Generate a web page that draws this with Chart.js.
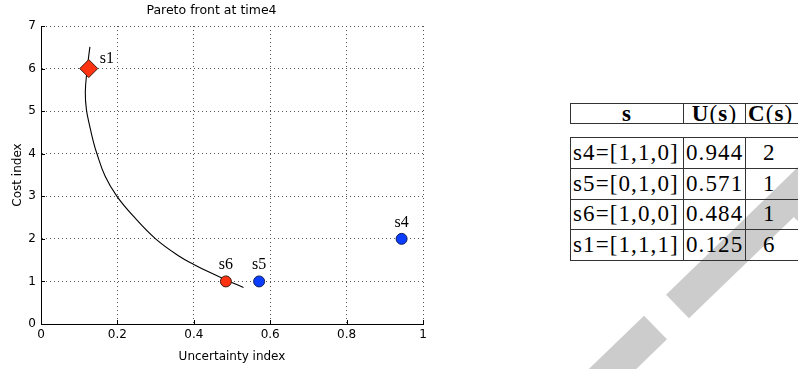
<!DOCTYPE html>
<html>
<head>
<meta charset="utf-8">
<script src="https://cdn.jsdelivr.net/npm/chart.js@4.4.1/dist/chart.umd.min.js"></script>
<style>
  html, body { margin: 0; padding: 0; background: #fff; }
  body { position: relative; width: 798px; height: 369px; overflow: hidden; }
  #chartBox { position: absolute; left: 0; top: 0; width: 440px; height: 369px; z-index: 2; }
  #mark { position: absolute; left: 0; top: 0; z-index: 1; }
  table { position: absolute; left: 570px; z-index: 3; border-collapse: collapse;
          table-layout: fixed; width: 250px;
          font-family: "Liberation Serif", serif; font-size: 23px; letter-spacing: 1.1px;
          color: #000; background: transparent; }
  td { box-sizing: border-box; border: 1px solid #333; padding: 0 2px; white-space: nowrap; overflow: hidden; }
  #head { top: 103px; }
  #head td { height: 20px; line-height: 19px; text-align: center; }
  #body { top: 137px; }
  #body td { height: 30.75px; }
  .c1 { width: 113px; } .c2 { width: 62px; } .c3 { width: 75px; }
  #body .c3 { text-align: left; padding-left: 17px; }
  #head .c3 { text-align: left; padding-left: 2px; }
</style>
</head>
<body>
<svg id="mark" width="798" height="369">
  <g stroke="#cccccc" stroke-width="33" stroke-linecap="butt">
    <line x1="677.5" y1="306.5" x2="857" y2="133"/>
    <line x1="655.5" y1="327.5" x2="583.6" y2="397"/>
    <line x1="800" y1="200" x2="900" y2="300"/>
  </g>
</svg>
<div id="chartBox"><canvas id="pareto" width="440" height="369"></canvas></div>
<table id="head"><tr>
  <td class="c1"><b>s</b></td>
  <td class="c2"><b>U</b>(<b>s</b>)</td>
  <td class="c3"><b>C</b>(<b>s</b>)</td>
</tr></table>
<table id="body"></table>

<script>
// pareto front curve
const frontU = [0.128, 0.121, 0.116, 0.119, 0.128, 0.136, 0.146, 0.168, 0.198, 0.240, 0.300, 0.364, 0.400, 0.440, 0.486, 0.530];
const frontC = [6.51, 6.00, 5.45, 5.03, 4.63, 4.32, 4.01, 3.47, 3.01, 2.55, 2.00, 1.58, 1.40, 1.22, 1.03, 0.86];

// solutions
const solNames   = ['s4', 's5', 's6', 's1'];
const solVectors = ['[1,1,0]', '[0,1,0]', '[1,0,0]', '[1,1,1]'];
const solU       = [0.944, 0.571, 0.484, 0.125];
const solC       = [2, 1, 1, 6];
const onFront    = [false, false, true, true];
const selected   = 's1';

const xTicks = [0, 0.2, 0.4, 0.6, 0.8, 1];
const yTicks = [0, 1, 2, 3, 4, 5, 6, 7];

// table
var body = document.getElementById('body');
solNames.forEach(function(n, i) {
    var tr = document.createElement('tr');
    tr.innerHTML = '<td class="c1">' + n + '=' + solVectors[i] + '</td>' +
                   '<td class="c2">' + solU[i].toFixed(3) + '</td>' +
                   '<td class="c3">' + solC[i] + '</td>';
    body.appendChild(tr);
});

function pts(flag) {
    var out = [];
    solNames.forEach(function(n, i) {
        if (onFront[i] === flag) out.push({x: solU[i], y: solC[i], name: n});
    });
    return out;
}

var solLabels = {
    id: 'solLabels',
    afterDatasetsDraw: function(c) {
        var ctx = c.ctx, x = c.scales.x, y = c.scales.y;
        ctx.save();
        ctx.font = '16px "Liberation Serif"';
        ctx.fillStyle = '#000';
        solNames.forEach(function(n, i) {
            var px = x.getPixelForValue(solU[i]), py = y.getPixelForValue(solC[i]);
            if (n === selected) {
                ctx.textAlign = 'left';
                ctx.fillText(n, px + 11, py - 6);
            } else {
                ctx.textAlign = 'center';
                ctx.fillText(n, px, py - 12);
            }
        });
        ctx.restore();
    }
};

// matlab style ticks pointing inwards
var innerTicks = {
    id: 'innerTicks',
    afterDraw: function(c) {
        var ctx = c.ctx, a = c.chartArea, x = c.scales.x, y = c.scales.y;
        ctx.save();
        ctx.strokeStyle = '#000';
        ctx.lineWidth = 1;
        ctx.beginPath();
        x.ticks.forEach(function(t) {
            var px = Math.round(x.getPixelForValue(t.value)) + 0.5;
            ctx.moveTo(px, a.bottom); ctx.lineTo(px, a.bottom - 4);
        });
        y.ticks.forEach(function(t) {
            var py = Math.round(y.getPixelForValue(t.value)) + 0.5;
            ctx.moveTo(a.left, py); ctx.lineTo(a.left + 4, py);
        });
        ctx.stroke();
        ctx.restore();
    }
};

var sans = {family: 'DejaVu Sans', size: 12};

var ctx = document.getElementById('pareto').getContext('2d');
var chart = new Chart(ctx, {
    type: 'scatter',
    data: {
        datasets: [{
            data: pts(true),
            backgroundColor: '#ff3311',
            borderColor: '#3a1a10',
            borderWidth: 1,
            pointStyle: function(c) { return c.raw && c.raw.name === selected ? 'rectRot' : 'circle'; },
            pointRadius: function(c) { return c.raw && c.raw.name === selected ? 9 : 5.5; }
        }, {
            data: pts(false),
            backgroundColor: '#0b3dff',
            borderColor: '#10205a',
            borderWidth: 1,
            pointRadius: 5.5
        }, {
            type: 'line',
            data: frontU.map(function(u, i) { return {x: u, y: frontC[i]}; }),
            borderColor: '#000',
            borderWidth: 1.1,
            pointRadius: 0,
            tension: 0.4,
            fill: false
        }]
    },
    options: {
        responsive: false,
        animation: false,
        layout: { padding: { left: 0, right: 17, top: 0, bottom: 0 } },
        plugins: {
            legend: { display: false },
            tooltip: { enabled: false },
            title: {
                display: true,
                text: 'Pareto front at time4',
                color: '#000',
                font: { family: 'DejaVu Sans', size: 12.5, weight: 'normal' },
                padding: { top: 3, bottom: 8 }
            }
        },
        scales: {
            x: {
                type: 'linear', min: 0, max: 1,
                afterBuildTicks: function(s) { s.ticks = xTicks.map(function(v) { return {value: v}; }); },
                afterFit: function(s) { s.height = 45; },
                ticks: { color: '#000', font: sans, padding: 4, maxRotation: 0,
                         callback: function(v) { return String(v); } },
                grid: { color: '#555', drawTicks: false },
                border: { color: '#000', width: 1, dash: [1, 3] },
                title: { display: true, text: 'Uncertainty index', color: '#000', font: sans,
                         padding: { top: 0, bottom: 5.4 } }
            },
            y: {
                type: 'linear', min: 0, max: 7,
                afterBuildTicks: function(s) { s.ticks = yTicks.map(function(v) { return {value: v}; }); },
                afterFit: function(s) { s.width = 41; },
                ticks: { color: '#000', font: sans, padding: 5,
                         callback: function(v) { return String(v); } },
                grid: { color: '#555', drawTicks: false },
                border: { color: '#000', width: 1, dash: [1, 3] },
                title: { display: true, text: 'Cost index', color: '#000', font: sans,
                         padding: { top: 10.4, bottom: 0 } }
            }
        }
    },
    plugins: [solLabels, innerTicks]
});
</script>
</body>
</html>
